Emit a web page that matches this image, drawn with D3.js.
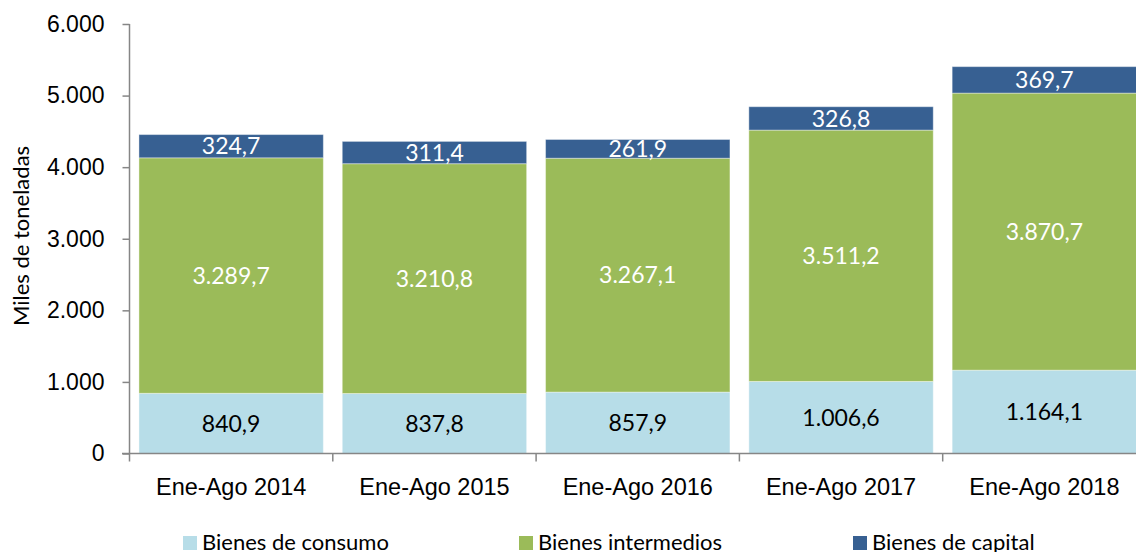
<html>
<head>
  <meta charset="utf-8" />
  <script src="https://cdnjs.cloudflare.com/ajax/libs/d3/7.8.5/d3.min.js"></script>
  <style>
    body { margin: 0; background: #fff; }
    svg { font-family: Lato, "Open Sans", sans-serif; }
    .domain { stroke: #868686; }
    .tick line { stroke: #868686; }
  </style>
</head>
<body>
  <svg width="1136" height="552"></svg>
  <script>
    var periods = ["Ene-Ago 2014", "Ene-Ago 2015", "Ene-Ago 2016", "Ene-Ago 2017", "Ene-Ago 2018"]
    var consumo = [840.9, 837.8, 857.9, 1006.6, 1164.1]
    var intermedios = [3289.7, 3210.8, 3267.1, 3511.2, 3870.7]
    var capital = [324.7, 311.4, 261.9, 326.8, 369.7]
    var seriesNames = ["Bienes de consumo", "Bienes intermedios", "Bienes de capital"]
    var seriesColors = ["#b7dde8", "#9bbb59", "#376092"]
    var labelColors = ["#000", "#fff", "#fff"]
    var yTicks = [0, 1000, 2000, 3000, 4000, 5000, 6000]

    var rows = periods.map((p, i) => ({
      period: p,
      "Bienes de consumo": consumo[i],
      "Bienes intermedios": intermedios[i],
      "Bienes de capital": capital[i]
    }))

    var stacked = d3.stack().keys(seriesNames)(rows)

    var svg = d3.select("svg")

    var x = d3.scaleBand()
      .domain(periods)
      .range([129.5, 1146])
      .paddingInner(0.093)
      .paddingOuter(0.0465)

    var y = d3.scaleLinear()
      .domain([0, 6000])
      .range([453.5, 24])

    // number format with dot thousands and comma decimal
    var es = d3.formatLocale({ decimal: ",", thousands: ".", grouping: [3], currency: ["", ""] })
    var fmtTick = es.format(",.0f")
    var fmtVal = es.format(",.1f")

    // bars
    var layers = svg.append("g").selectAll("g")
      .data(stacked)
      .enter()
      .append("g")
        .attr("fill", (d, i) => seriesColors[i])

    layers.selectAll("rect")
      .data(d => d)
      .enter()
      .append("rect")
        .attr("x", d => x(d.data.period))
        .attr("width", x.bandwidth())
        .attr("y", d => y(d[1]))
        .attr("height", d => y(d[0]) - y(d[1]))
        .style("stroke", "#ffffff")
        .style("stroke-opacity", 0.4)
        .style("stroke-width", 1)

    // value labels
    layers.selectAll("text")
      .data((d, i) => d.map(v => ({ v: v, i: i })))
      .enter()
      .append("text")
        .attr("x", d => x(d.v.data.period) + x.bandwidth() / 2)
        .attr("y", d => (y(d.v[0]) + y(d.v[1])) / 2)
        .attr("dy", "0.36em")
        .attr("text-anchor", "middle")
        .style("font-size", "23px")
        .style("fill", d => labelColors[d.i])
        .text(d => fmtVal(d.v[1] - d.v[0]))

    // y axis
    var yAxis = svg.append("g")
      .attr("transform", "translate(129.5,0)")
      .call(d3.axisLeft(y).tickValues(yTicks).tickFormat(fmtTick).tickSizeOuter(0).tickSize(7).tickPadding(18))
    yAxis.selectAll("text").style("font-size", "23px").style("fill", "#000")
    yAxis.select(".domain").attr("d", "M0,453.5V24").style("stroke-width", 1.5)
    yAxis.selectAll(".tick line").style("stroke-width", 1.5)

    // x axis
    var xAxis = svg.append("g")
      .attr("transform", "translate(0,453.5)")
      .call(d3.axisBottom(x).tickSize(0).tickSizeOuter(0).tickPadding(25))
    xAxis.selectAll("text").style("font-size", "23.5px").style("fill", "#000")
    xAxis.select(".domain").attr("d", "M122,0H1146").style("stroke-width", 1.5)

    // category separators
    var bounds = periods.map(p => x(p) - x.step() * x.paddingInner() / 2).concat([1146])
    xAxis.selectAll(".sep")
      .data(bounds)
      .enter()
      .append("line")
        .attr("class", "sep")
        .attr("x1", d => d)
        .attr("x2", d => d)
        .attr("y1", 0)
        .attr("y2", 8)
        .style("stroke", "#868686")
        .style("stroke-width", 1.5)

    // y title
    svg.append("text")
      .attr("transform", "translate(29,236) rotate(-90)")
      .attr("text-anchor", "middle")
      .style("font-size", "22px")
      .text("Miles de toneladas")

    // legend
    var legendX = [183, 519, 853]
    var legend = svg.append("g").selectAll("g")
      .data(seriesNames)
      .enter()
      .append("g")
        .attr("transform", (d, i) => `translate(${legendX[i]},536)`)
    legend.append("rect")
      .attr("width", 14)
      .attr("height", 14)
      .attr("fill", (d, i) => seriesColors[i])
    legend.append("text")
      .attr("x", 19)
      .attr("y", 14)
      .style("font-size", "22px")
      .text(d => d)
  </script>
</body>
</html>
